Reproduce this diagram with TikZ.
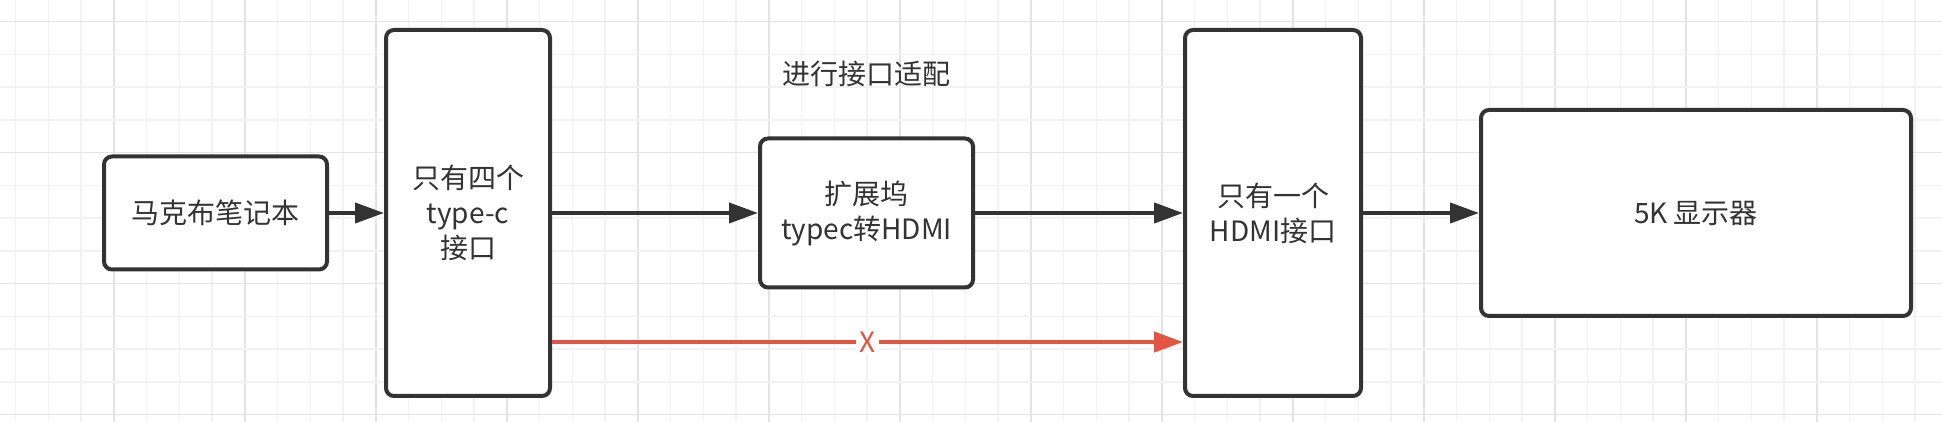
\documentclass[tikz,border=0pt]{standalone}
\usepackage{fontspec}
\setmainfont{Noto Sans CJK SC}
\usepackage{xcolor}
\usepackage{tikz}
\usetikzlibrary{arrows.meta, positioning}

\definecolor{boxline}{RGB}{51,51,51}
\definecolor{noway}{RGB}{228,84,66}
\definecolor{gridminor}{RGB}{242,242,242}
\definecolor{gridmajor}{RGB}{228,228,228}

\begin{document}
\begin{tikzpicture}[x=1pt, y=1pt, >={Triangle[length=29pt, width=20pt]}, line width=4pt]
    \tikzset{
        box/.style={rectangle, draw=boxline, fill=white, rounded corners=8pt, inner sep=0pt, align=center, text=boxline, font=\fontsize{28pt}{35pt}\selectfont},
        line/.style={draw=boxline, ->},
        badline/.style={draw=noway, ->},
        note/.style={inner sep=0pt, text=boxline, font=\fontsize{28pt}{35pt}\selectfont}
    }

    % background grid
    \useasboundingbox (0,0) rectangle (1942,422);
    \fill[white] (0,0) rectangle (1942,422);
    \foreach \k in {0,...,58} {
        \pgfmathtruncatemacro{\m}{mod(\k+1,4)}
        \ifnum\m=0 \def\gc{gridmajor}\else \def\gc{gridminor}\fi
        \draw[\gc, line width=1.5pt] (15.7+32.75*\k,0) -- (15.7+32.75*\k,422);
    }
    \foreach \j in {0,...,12} {
        \pgfmathtruncatemacro{\m}{mod(\j,4)}
        \ifnum\m=0 \def\gc{gridmajor}\else \def\gc{gridminor}\fi
        \draw[\gc, line width=1.5pt] (0,400.3-32.75*\j) -- (1942,400.3-32.75*\j);
    }

    \node (Mac) [box, minimum width=223pt, minimum height=113pt] at (215.5,209) {马克布笔记本};
    \node (TypeC) [box, minimum width=164pt, minimum height=366pt, right=55pt of Mac] {只有四个\\type-c\\接口};
    \node (Dock) [box, minimum width=213pt, minimum height=149pt, right=206pt of TypeC] {扩展坞\\typec转HDMI};
    \node (Hdmi) [box, minimum width=176pt, minimum height=366pt, right=208pt of Dock] {只有一个\\HDMI接口};
    \node (Screen) [box, minimum width=430pt, minimum height=206pt, right=116pt of Hdmi] {5K 显示器};
    \node (Adapt) [note, above=48pt of Dock] {进行接口适配};

    \path [line] (Mac) -- (TypeC);
    \path [line] (TypeC) -- (Dock);
    \path [line] (Dock) -- (Hdmi);
    \path [line] (Hdmi) -- (Screen);
    \path [badline] ([yshift=-129pt]TypeC.east) -- node[fill=white, inner sep=3pt, text=noway, font=\fontsize{28pt}{35pt}\selectfont] {X} ([yshift=-129pt]Hdmi.west);

\end{tikzpicture}
\end{document}
